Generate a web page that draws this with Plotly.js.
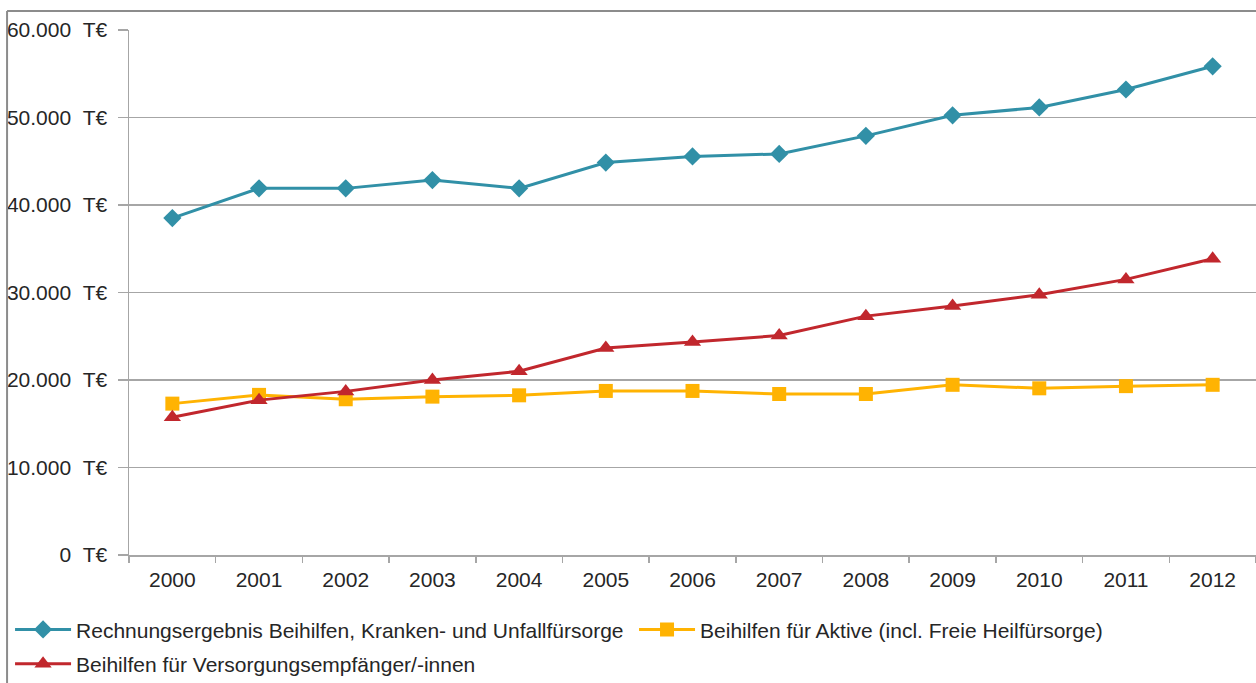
<!DOCTYPE html>
<html>
<head>
<meta charset="utf-8">
<script src="https://cdn.plot.ly/plotly-3.0.1.min.js"></script>
<style>html,body{margin:0;padding:0;background:#fff;}#chart{width:1256px;height:683px;}</style>
</head>
<body>
<div id="chart"></div>
<script>
const years = ["2000","2001","2002","2003","2004","2005","2006","2007","2008","2009","2010","2011","2012"];
const gesamt = [38500, 41900, 41900, 42850, 41900, 44850, 45550, 45840, 47900, 50250, 51150, 53200, 55850];
const aktive = [17300, 18300, 17800, 18100, 18250, 18750, 18750, 18400, 18400, 19450, 19050, 19300, 19450];
const versorgung = [15750, 17700, 18700, 20000, 21000, 23650, 24350, 25080, 27300, 28450, 29750, 31500, 33850];
const yTickVals = [0, 10000, 20000, 30000, 40000, 50000, 60000];
const yTickText = ["0\u00a0\u00a0T€", "10.000\u00a0\u00a0T€", "20.000\u00a0\u00a0T€", "30.000\u00a0\u00a0T€", "40.000\u00a0\u00a0T€", "50.000\u00a0\u00a0T€", "60.000\u00a0\u00a0T€"];
const names = ["Rechnungsergebnis Beihilfen, Kranken- und Unfallfürsorge", "Beihilfen für Aktive (incl. Freie Heilfürsorge)", "Beihilfen für Versorgungsempfänger/-innen"];

const traces = [
  {x: years, y: gesamt, name: names[0], type: "scatter", mode: "lines+markers", legend: "legend", legendgroup: "a",
   line: {color: "#3190A7", width: 3}, marker: {symbol: "diamond", size: 14, color: "#3190A7"}},
  {x: years, y: aktive, name: names[1], type: "scatter", mode: "lines+markers", legend: "legend2", legendgroup: "b",
   line: {color: "#FFB302", width: 3}, marker: {symbol: "square", size: 14, color: "#FFB302"}},
  {x: years, y: versorgung, name: names[2], type: "scatter", mode: "lines+markers", legend: "legend", legendgroup: "c",
   line: {color: "#C1272D", width: 3}, marker: {symbol: "triangle-up", size: 15, color: "#C1272D"}}
];

const legendCommon = {orientation: "v", xref: "container", yref: "container", xanchor: "left", yanchor: "top",
  font: {size: 21, color: "#262626"}, itemwidth: 56, traceorder: "grouped", bgcolor: "rgba(0,0,0,0)", tracegroupgap: 4};

const layout = {
  width: 1256, height: 683,
  margin: {l: 129, r: 0, t: 30, b: 128, autoexpand: false},
  paper_bgcolor: "#ffffff", plot_bgcolor: "#ffffff",
  font: {family: "Liberation Sans, Arial, sans-serif", size: 21, color: "#262626"},
  showlegend: true,
  legend: Object.assign({}, legendCommon, {x: 0.008, y: 0.108}),
  legend2: Object.assign({}, legendCommon, {x: 0.5048, y: 0.108}),
  xaxis: {type: "category", range: [-0.5, 12.5], showgrid: false, showline: true, linecolor: "#A6A6A6", linewidth: 1.5,
          ticks: "outside", tickson: "boundaries", ticklen: 6, tickcolor: "#A6A6A6", tickwidth: 1.5, ticklabelstandoff: 5,
          tickfont: {size: 21, color: "#262626"}, zeroline: false, fixedrange: true, automargin: false},
  yaxis: {range: [0, 60000], tickvals: yTickVals, ticktext: yTickText, showgrid: true,
          gridcolor: "#A6A6A6", gridwidth: 1.5, showline: true, linecolor: "#A6A6A6", linewidth: 1.5,
          ticks: "outside", ticklen: 10, tickcolor: "#A6A6A6", tickwidth: 1.5, ticklabelstandoff: 6,
          tickfont: {size: 21, color: "#262626"}, zeroline: false, fixedrange: true, automargin: false},
  shapes: [
    {type: "line", xref: "paper", yref: "paper", x0: -0.1082, x1: -0.1082, y0: -0.35, y1: 1.0362,
     line: {color: "#8C8C8C", width: 2}},
    {type: "line", xref: "paper", yref: "paper", x0: -0.1082, x1: 1.02, y0: 1.0362, y1: 1.0362,
     line: {color: "#8C8C8C", width: 2}}
  ]
};

Plotly.newPlot("chart", traces, layout, {displayModeBar: false, staticPlot: true});
</script>
</body>
</html>
